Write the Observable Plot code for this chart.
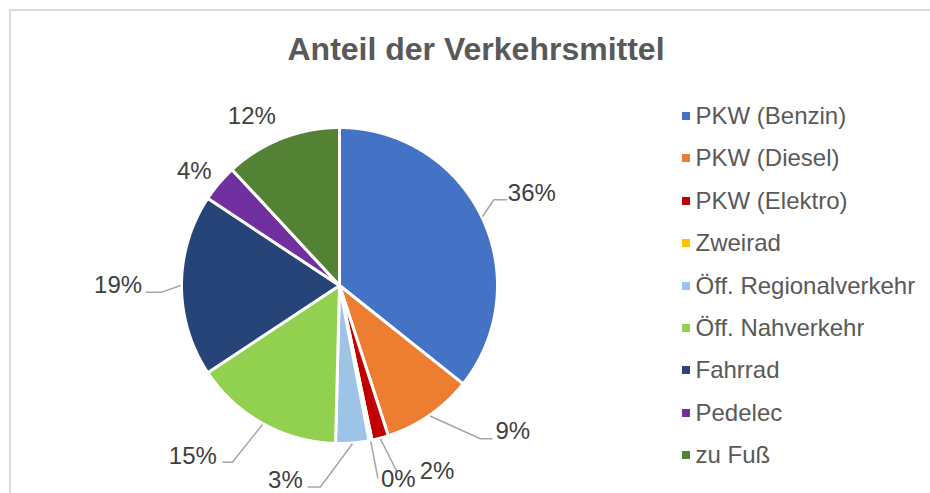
<!DOCTYPE html>
<html>
<head>
<meta charset="utf-8">
<script src="https://cdn.jsdelivr.net/npm/d3@7"></script>
<script src="https://cdn.jsdelivr.net/npm/@observablehq/plot@0.6"></script>
<style>
  html, body { margin: 0; padding: 0; background: #ffffff; }
  #chart { position: relative; width: 930px; height: 493px; overflow: hidden; font-family: "Liberation Sans", Arial, sans-serif; }
  #chart > svg { position: absolute; left: 0; top: 0; }
  #frame { position: absolute; left: 9px; top: 9px; width: 1000px; height: 1000px; border: 2px solid #d9d9d9; box-sizing: border-box; pointer-events: none; }
  #title { position: absolute; left: 476px; top: 33px; transform: translateX(-50%); font: bold 32px/32px "Liberation Sans", Arial, sans-serif; color: #595959; white-space: nowrap; }
  #legend { position: absolute; left: 681.5px; top: 94.8px; }
  .lg-swatches { font-family: "Liberation Sans", Arial, sans-serif; font-size: 24px; color: #595959; margin: 0; width: 260px; }
  .lg-swatch { height: 42.4px; padding: 0; display: flex; align-items: center; }
  .lg-swatch > svg { margin-right: 6px; }
</style>
</head>
<body>
<div id="chart"></div>
<script>
// ---- data ----
const categories = ["PKW (Benzin)", "PKW (Diesel)", "PKW (Elektro)", "Zweirad", "Öff. Regionalverkehr", "Öff. Nahverkehr", "Fahrrad", "Pedelec", "zu Fuß"];
const values = [35.7, 9.3, 1.7, 0.3, 3.4, 15.3, 18.6, 3.8, 11.9];
const colors = ["#4472C4", "#ED7D31", "#C00000", "#FFC000", "#9DC3E6", "#92D050", "#264478", "#7030A0", "#548235"];
const titleText = "Anteil der Verkehrsmittel";

// ---- label layout (Excel best-fit placement: angular nudge in degrees, radius factor, leader style) ----
const labelLayout = [
  {nudge: 0,     r: 1.36,  leader: "elbow",  gap: 1,   dy: 7,   elbow: 13},
  {nudge: -15.3, r: 1.44,  leader: "elbow",  gap: 3,   dy: 8,   elbow: 12},
  {nudge: -12.9, r: 1.33,  leader: "direct", gap: 23,  dy: 1},
  {nudge: -5.6,  r: 1.285, leader: "direct", gap: 3,   dy: 0},
  {nudge: 20.3,  r: 1.28,  leader: "elbow",  gap: 4.7, dy: 8,   elbow: 13},
  {nudge: 11.8,  r: 1.43,  leader: "elbow",  gap: 5.5, dy: 6.7, elbow: 10},
  {nudge: 0.3,   r: 1.41,  leader: "elbow",  gap: 4,   dy: 8,   elbow: 15},
  {nudge: -1.9,  r: 1.18,  leader: null},
  {nudge: -5.8,  r: 1.22,  leader: null}
];

const R = 158, CX = 339, CY = 285;   // pixel geometry of the pie
const fontSize = 24;

const arcs = d3.pie().sort(null).value(d => d)(values);

// slice polygons in unit-circle coordinates (y up, angle clockwise from top)
const slicePoints = arcs.flatMap((a, i) => {
  const cat = categories[i];
  const span = a.endAngle - a.startAngle;
  const n = Math.max(2, Math.ceil(span / (Math.PI / 720)));
  const pts = [{cat, x: 0, y: 0}];
  for (let k = 0; k <= n; k++) {
    const t = a.startAngle + span * k / n;
    pts.push({cat, x: Math.sin(t), y: Math.cos(t)});
  }
  pts.push({cat, x: 0, y: 0});
  return pts;
});

const labelText = values.map(v => Math.round(v) + "%");
const textWidth = s => [...s].reduce((w, ch) => w + (ch === "%" ? 0.889 : 0.556) * fontSize, 0);

const labelData = [];
const leaderPoints = [];
arcs.forEach((a, i) => {
  const L = labelLayout[i];
  const mid = (a.startAngle + a.endAngle) / 2;
  const ang = mid + L.nudge * Math.PI / 180;
  const lx = L.r * 157 / R * Math.sin(ang);
  const ly = L.r * 157 / R * Math.cos(ang);
  const text = labelText[i];
  labelData.push({x: lx, y: ly, text});
  if (L.leader) {
    const right = Math.sin(ang) > 0;
    const half = textWidth(text) / 2;
    const sgn = right ? -1 : 1;
    const ex = lx + sgn * (half + L.gap) / R;
    const ey = ly - L.dy / R;
    const pts = [{id: i, x: 1.005 * Math.sin(mid), y: 1.005 * Math.cos(mid)}];
    if (L.leader === "elbow") pts.push({id: i, x: ex + sgn * L.elbow / R, y: ey});
    pts.push({id: i, x: ex, y: ey});
    leaderPoints.push(...pts);
  }
});

const chart = Plot.plot({
  width: 930,
  height: 493,
  margin: 0,
  x: {domain: [-1, 1], range: [CX - R, CX + R], axis: null},
  y: {domain: [-1, 1], range: [CY + R, CY - R], axis: null},
  color: {domain: categories, range: colors},
  style: {background: "transparent", overflow: "visible"},
  marks: [
    Plot.line(slicePoints, {x: "x", y: "y", z: "cat", fill: "cat", stroke: "white", strokeWidth: 3, strokeLinejoin: "round", curve: "linear"}),
    Plot.line(leaderPoints, {x: "x", y: "y", z: "id", stroke: "#A6A6A6", strokeWidth: 1.5, strokeLinecap: "butt", strokeLinejoin: "miter", curve: "linear"}),
    Plot.text(labelData, {x: "x", y: "y", text: "text", fontSize, fontFamily: '"Liberation Sans", Arial, sans-serif', fill: "#404040", dy: 1})
  ]
});

const legend = Plot.legend({
  color: {domain: categories, range: colors},
  legend: "swatches",
  columns: 1,
  swatchSize: 8,
  className: "lg"
});

const root = document.getElementById("chart");
root.appendChild(chart);
const title = document.createElement("div");
title.id = "title";
title.textContent = titleText;
root.appendChild(title);
const lgWrap = document.createElement("div");
lgWrap.id = "legend";
lgWrap.appendChild(legend);
root.appendChild(lgWrap);
const frame = document.createElement("div");
frame.id = "frame";
root.appendChild(frame);
</script>
</body>
</html>
